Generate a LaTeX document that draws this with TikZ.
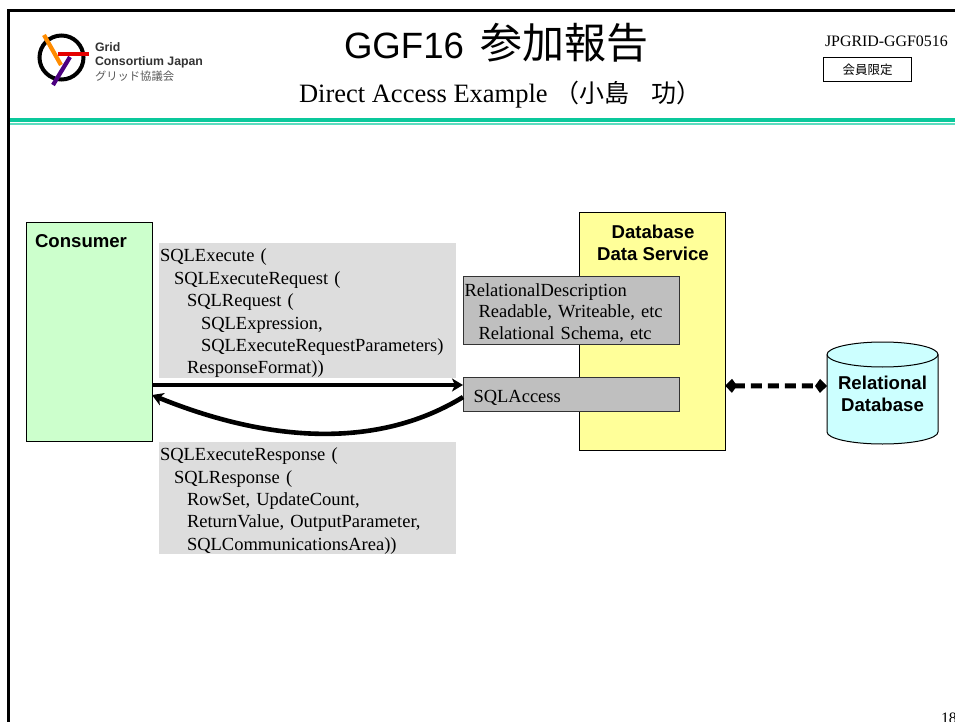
\documentclass[tikz,border=0pt]{standalone}
\usepackage{fontspec}
\setmainfont{Liberation Serif}
\setsansfont{Liberation Sans}
\newfontfamily\cjkfont{Noto Sans CJK JP}
\usetikzlibrary{arrows.meta,calc}
\tikzset{
  x=1pt,y=-1pt,
  every node/.style={inner sep=0pt,outer sep=0pt},
  graybox/.style={fill=black!13.5,anchor=north west},
  darkbox/.style={fill=black!25,draw=black!80,line width=.9pt,anchor=north west},
  graytext/.style={align=left,text width=295pt,font=\fontsize{18.5}{22.4}\selectfont},
  darktext/.style={align=left,text width=213pt,font=\fontsize{18.5}{21.9}\selectfont},
  colbox/.style={draw=black,line width=1pt,anchor=north west},
  boldlabel/.style={font=\sffamily\bfseries\fontsize{18.6}{22}\selectfont,align=center},
  flow/.style={line width=3.8pt,-{Stealth[length=11pt,width=13pt,inset=3pt]}},
  backflow/.style={line width=4.6pt,-{Stealth[length=11pt,width=13pt,inset=3pt]}},
  dataflow/.style={line width=5pt,dash pattern=on 11pt off 6pt,{Kite[length=12pt,width=14pt,inset=5pt]}-{Kite[length=12pt,width=14pt,inset=5pt]}},
  logotext/.style={anchor=west,font=\sffamily\bfseries\fontsize{12.3}{14}\selectfont,text=black!80},
}
\begin{document}
\begin{tikzpicture}
\useasboundingbox (0,0) rectangle (955,722);
\clip (0,0) rectangle (955,722);
\fill[white] (0,0) rectangle (955,722);
% frame
\draw[line width=3pt] (8.5,722) -- (8.5,10.5) -- (955,10.5);
\fill[fill={rgb,255:red,10;green,200;blue,155}] (10,118.5) rectangle (955,122.5);
\fill[fill={rgb,255:red,90;green,220;blue,190}] (10,123.5) rectangle (955,125);
% logo
\draw[line width=4pt] (61.5,57.5) circle (22);
\draw[line width=4.2pt,color=orange!90!yellow] (44,35) -- (61,65);
\draw[line width=4pt,color=red!90!black] (58,54) -- (89,54);
\draw[line width=4.2pt,color=violet!75!blue!80!black] (70,57) -- (53,85);
\node[logotext] (g1) at (95,47) {Grid};
\node[logotext] (g2) at (95,62) {Consortium Japan};
\node[anchor=west,font=\cjkfont\fontsize{11.3}{13}\selectfont,text=black!65] (g3) at (95,76) {グリッド協議会};
% titles
\node[anchor=west,font=\sffamily\fontsize{36.6}{42}\selectfont] (title) at (344,43) {GGF16\hspace{16pt}{\cjkfont\fontsize{42}{44}\selectfont 参加報告}};
\node[anchor=west,font=\fontsize{26.5}{30}\selectfont] (sub) at (299,95) {Direct Access Example\hspace{7pt}{\cjkfont\fontsize{25}{30}\selectfont （小島\hspace{22pt}功）}};
\node[anchor=west,font=\fontsize{15.9}{18}\selectfont] (id) at (825,41) {JPGRID-GGF0516};
\node[draw=black,line width=.9pt,minimum width=88pt,minimum height=24pt,anchor=north west,font=\cjkfont\fontsize{12.5}{14}\selectfont] (mem) at (823.5,57.5) {会員限定};
% consumer
\node[colbox,fill={rgb,255:red,204;green,255;blue,204},minimum width=126pt,minimum height=219pt] (cons) at (26,222) {};
\node[boldlabel,anchor=west] (conslab) at (35,241) {Consumer};
% request / response text
\node[graybox,minimum width=297pt,minimum height=135pt] (req) at (159,243) {};
\node[graytext] (reqtext) at ($(req.center)+(0,3)$) {SQLExecute (\\
\hspace*{14pt}SQLExecuteRequest (\\
\hspace*{27pt}SQLRequest (\\
\hspace*{41pt}SQLExpression,\\
\hspace*{41pt}SQLExecuteRequestParameters)\\
\hspace*{27pt}ResponseFormat))};
\node[graybox,minimum width=297pt,minimum height=112pt] (resp) at (159,442) {};
\node[graytext] (resptext) at ($(resp.center)+(0,3)$) {SQLExecuteResponse (\\
\hspace*{14pt}SQLResponse (\\
\hspace*{27pt}RowSet, UpdateCount,\\
\hspace*{27pt}ReturnValue, OutputParameter,\\
\hspace*{27pt}SQLCommunicationsArea))};
% service
\node[colbox,fill={rgb,255:red,255;green,255;blue,153},minimum width=146pt,minimum height=238pt] (svc) at (579,212) {};
\node[boldlabel] (svclab) at (653,243) {Database\\Data Service};
\node[darkbox,minimum width=216pt,minimum height=68pt] (desc) at (463,276) {};
\node[darktext] (desctext) at ($(desc.center)+(0,3)$) {RelationalDescription\\
\hspace*{14pt}Readable, Writeable, etc\\
\hspace*{14pt}Relational Schema, etc};
\node[darkbox,minimum width=216pt,minimum height=34pt] (sqla) at (463,377) {};
\node[darktext] (sqlatext) at ($(sqla.center)+(0,4)$) {\hspace*{9pt}SQLAccess};
% database
\draw[line width=1pt,fill={rgb,255:red,204;green,255;blue,255}] (827,354.5) -- (827,432) arc[start angle=180,end angle=360,x radius=55.5,y radius=-12] -- (938,354.5) arc[start angle=0,end angle=180,x radius=55.5,y radius=-12.5] -- cycle;
\draw[line width=1pt] (827,354.5) arc[start angle=180,end angle=360,x radius=55.5,y radius=-12.5];
\node[boldlabel,minimum width=111pt,minimum height=44pt] (db) at (882.5,394) {Relational\\Database};
% connectors
\coordinate (fs) at ($(cons.north east)!0.744!(cons.south east)$);
\coordinate (fe) at ($(sqla.north west)!0.235!(sqla.south west)$);
\coordinate (rs) at ($(sqla.north west)!0.59!(sqla.south west)$);
\coordinate (re) at ($(cons.north east)!0.79!(cons.south east)$);
\coordinate (ds) at ($(svc.north east)!0.73!(svc.south east)$);
\coordinate (de) at ($(db.west)+(0,-8)$);
\draw[flow] (fs) -- (fe);
\draw[backflow] (rs) .. controls (385,445) and (280,447) .. (re);
\draw[dataflow] (ds) -- (de);
% page number
\node[anchor=west,font=\fontsize{15.9}{18}\selectfont] (pg) at (941,718) {18};
\end{tikzpicture}
\end{document}
